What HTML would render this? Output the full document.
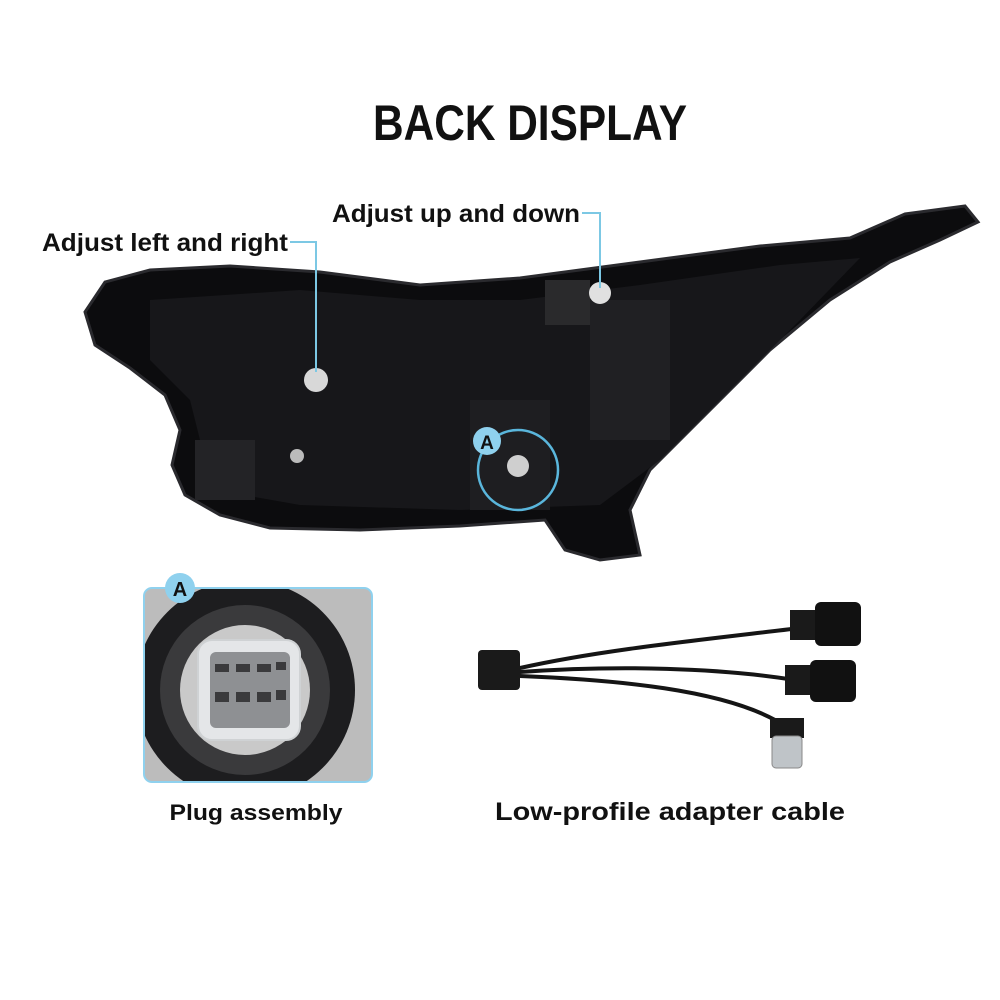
<!DOCTYPE html>
<html><head><meta charset="utf-8"><style>
html,body{margin:0;padding:0;background:#fff;}
svg{display:block;}
text{font-family:"Liberation Sans",sans-serif;font-weight:bold;fill:#111;}
</style></head><body>
<svg width="1000" height="1000" viewBox="0 0 1000 1000" xmlns="http://www.w3.org/2000/svg">
<rect width="1000" height="1000" fill="#fff"/>
<text x="530" y="140" font-size="50" text-anchor="middle" textLength="314" lengthAdjust="spacingAndGlyphs">BACK DISPLAY</text>
<text x="332" y="222" font-size="25" textLength="248" lengthAdjust="spacingAndGlyphs">Adjust up and down</text>
<text x="42" y="251" font-size="25" textLength="246" lengthAdjust="spacingAndGlyphs">Adjust left and right</text>

<!-- headlight housing -->
<path d="M85,312 L105,282 L150,270 L230,266 L320,272 L420,285 L520,278 L640,262 L760,246 L850,238 L905,214 L965,206 L978,222 L940,240 L890,262 L830,300 L770,350 L700,420 L650,470 L630,510 L640,555 L600,560 L565,550 L545,520 L460,526 L360,530 L270,528 L220,515 L185,495 L172,465 L180,430 L165,395 L130,368 L95,345 Z" fill="#0c0c0e" stroke="#2a2a2e" stroke-width="3"/>
<path d="M150,300 L300,290 L420,300 L520,300 L640,285 L780,265 L860,258 L800,320 L720,400 L660,460 L600,505 L460,510 L300,505 L215,490 L200,440 L190,400 L150,360 Z" fill="#17171a"/>
<rect x="195" y="440" width="60" height="60" fill="#232326"/>
<rect x="470" y="400" width="80" height="110" fill="#1e1e21"/>
<rect x="590" y="300" width="80" height="140" fill="#202023"/>
<rect x="545" y="280" width="45" height="45" fill="#2a2a2c"/>
<circle cx="316" cy="380" r="12" fill="#d8d8d8"/>
<circle cx="600" cy="293" r="11" fill="#e0e0e0"/>
<circle cx="518" cy="466" r="11" fill="#cfcfcf"/>
<circle cx="297" cy="456" r="7" fill="#bbb"/>

<!-- leader lines -->
<polyline points="582,213 600,213 600,288" fill="none" stroke="#7cc8e4" stroke-width="2"/>
<polyline points="290,242 316,242 316,372" fill="none" stroke="#7cc8e4" stroke-width="2"/>
<circle cx="518" cy="470" r="40" fill="none" stroke="#5ab6dc" stroke-width="2.5"/>
<circle cx="487" cy="441" r="14" fill="#8fd1ee"/>
<text x="487" y="449" font-size="19" text-anchor="middle">A</text>

<!-- inset -->
<defs><clipPath id="cp"><rect x="144" y="588" width="228" height="194" rx="8"/></clipPath></defs>
<g clip-path="url(#cp)">
<rect x="144" y="588" width="228" height="194" fill="#bcbcbc"/>
<circle cx="245" cy="690" r="110" fill="#1d1d1f"/>
<circle cx="245" cy="690" r="85" fill="#3a3a3c"/>
<circle cx="245" cy="690" r="65" fill="#c9c9c9"/>
<rect x="198" y="640" width="102" height="100" rx="14" fill="#e4e6e8" stroke="#cfd2d4" stroke-width="2"/>
<rect x="210" y="652" width="80" height="76" rx="6" fill="#8e9093"/>
<g fill="#3a3a3c">
<rect x="215" y="664" width="14" height="8"/><rect x="236" y="664" width="14" height="8"/><rect x="257" y="664" width="14" height="8"/><rect x="276" y="662" width="10" height="8"/>
<rect x="215" y="692" width="14" height="10"/><rect x="236" y="692" width="14" height="10"/><rect x="257" y="692" width="14" height="10"/><rect x="276" y="690" width="10" height="10"/>
</g>
</g>
<rect x="144" y="588" width="228" height="194" rx="8" fill="none" stroke="#8fd1ee" stroke-width="2"/>
<circle cx="180" cy="588" r="15" fill="#8fd1ee"/>
<text x="180" y="596" font-size="20" text-anchor="middle">A</text>

<!-- cable -->
<g fill="none" stroke="#151515" stroke-width="4" stroke-linecap="round">
<path d="M520,668 C600,650 700,640 800,628"/>
<path d="M520,672 C620,665 720,668 795,680"/>
<path d="M520,676 C620,680 720,690 775,720"/>
</g>
<rect x="478" y="650" width="42" height="40" rx="4" fill="#1a1a1a"/>
<rect x="790" y="610" width="30" height="30" fill="#1a1a1a"/>
<rect x="815" y="602" width="46" height="44" rx="6" fill="#111"/>
<rect x="785" y="665" width="30" height="30" fill="#1a1a1a"/>
<rect x="810" y="660" width="46" height="42" rx="6" fill="#111"/>
<rect x="770" y="718" width="34" height="20" fill="#1a1a1a"/>
<rect x="772" y="736" width="30" height="32" rx="4" fill="#bfc4c8" stroke="#888"/>

<text x="256" y="820" font-size="22" text-anchor="middle" textLength="173" lengthAdjust="spacingAndGlyphs">Plug assembly</text>
<text x="670" y="820" font-size="25" text-anchor="middle" textLength="350" lengthAdjust="spacingAndGlyphs">Low-profile adapter cable</text>
</svg>
</body></html>
